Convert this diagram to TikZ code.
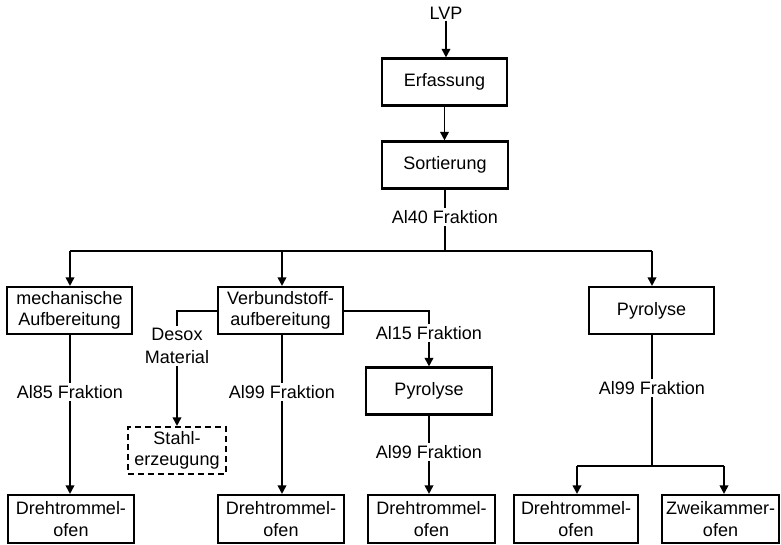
\documentclass[tikz,border=0pt]{standalone}
\usepackage{fontspec}
\setmainfont{Liberation Sans}
\usetikzlibrary{arrows.meta}
\begin{document}
\begin{tikzpicture}[x=0.75pt,y=-0.75pt,
  font=\fontsize{13.5}{16}\selectfont,
  box/.style={draw,line width=1.6pt,inner sep=0pt,align=center,minimum width=93.75pt,minimum height=35.25pt},
  dbox/.style={box,dash pattern=on 4.5pt off 3pt,minimum width=73.5pt},
  lbl/.style={inner sep=1.5pt,align=center},
  conn/.style={line width=1.4pt},
  arr/.style={conn,-{Triangle[length=6.5pt,width=6.5pt]}}]
\useasboundingbox (0,0) rectangle (781,544);
% nodes
\node[lbl] (lvp) at (446,13) {LVP};
\node[box] (erf) at (444.5,82) {Erfassung};
\node[box,minimum width=94.5pt] (sort) at (445,165) {Sortierung};
\node[lbl] (al40) at (445,217) {Al40 Fraktion};
\coordinate (hb) at (445,251);
\coordinate (hl) at (70,251);
\coordinate (hm) at (282,251);
\coordinate (hr) at (652,251);
\node[box] (mech) at (69.5,310.5) {mechanische\\Aufbereitung};
\node[box] (verb) at (280.5,310.5) {Verbundstoff-\\aufbereitung};
\node[box] (pyr1) at (651.5,310.5) {Pyrolyse};
\node[lbl,font=\fontsize{13.5}{17}\selectfont] (desox) at (177,346) {Desox\\Material};
\coordinate (dl) at (177,311);
\node[dbox] (stahl) at (177,450.5) {Stahl-\\erzeugung};
\node[lbl] (al15) at (429,333) {Al15 Fraktion};
\coordinate (dr) at (429,311);
\node[box,minimum width=94.5pt] (pyr2) at (429,391) {Pyrolyse};
\node[lbl] (al85) at (70,392) {Al85 Fraktion};
\node[lbl] (al99a) at (282,392) {Al99 Fraktion};
\node[lbl] (al99b) at (429,452) {Al99 Fraktion};
\node[lbl] (al99c) at (652,388) {Al99 Fraktion};
\coordinate (bc) at (652,466);
\coordinate (bl) at (577,466);
\coordinate (br) at (724,466);
\node[box,minimum width=94.5pt,minimum height=36pt] (dt1) at (71,519) {Drehtrommel-\\ofen};
\node[box,minimum width=94.5pt,minimum height=36pt] (dt2) at (281,519) {Drehtrommel-\\ofen};
\node[box,minimum width=95.25pt,minimum height=36pt] (dt3) at (431.5,519) {Drehtrommel-\\ofen};
\node[box,minimum width=93pt,minimum height=36pt] (dt4) at (576,519) {Drehtrommel-\\ofen};
\node[box,minimum width=87.75pt,minimum height=36pt] (zk) at (720.5,519) {Zweikammer-\\ofen};
% connectors
\draw[arr] (lvp) -- (lvp |- erf.north);
\draw[arr] (erf) -- (erf.south |- sort.north);
\draw[conn] (sort) -- (al40);
\draw[conn] (al40) -- (hb);
\draw[conn] (hl) -- (hr);
\draw[arr] (hl) -- (hl |- mech.north);
\draw[arr] (hm) -- (hm |- verb.north);
\draw[arr] (hr) -- (hr |- pyr1.north);
\draw[conn] (verb.west |- dl) -- (dl) -- (desox);
\draw[arr] (desox) -- (desox |- stahl.north);
\draw[conn] (verb.east |- dr) -- (dr) -- (al15);
\draw[arr] (al15) -- (al15 |- pyr2.north);
\draw[conn] (mech.south -| al85) -- (al85);
\draw[arr] (al85) -- (al85 |- dt1.north);
\draw[conn] (verb.south -| al99a) -- (al99a);
\draw[arr] (al99a) -- (al99a |- dt2.north);
\draw[conn] (pyr2) -- (al99b);
\draw[arr] (al99b) -- (al99b |- dt3.north);
\draw[conn] (pyr1.south -| al99c) -- (al99c);
\draw[conn] (al99c) -- (bc);
\draw[conn] (bl) -- (br);
\draw[arr] (bl) -- (bl |- dt4.north);
\draw[arr] (br) -- (br |- zk.north);
\end{tikzpicture}
\end{document}
